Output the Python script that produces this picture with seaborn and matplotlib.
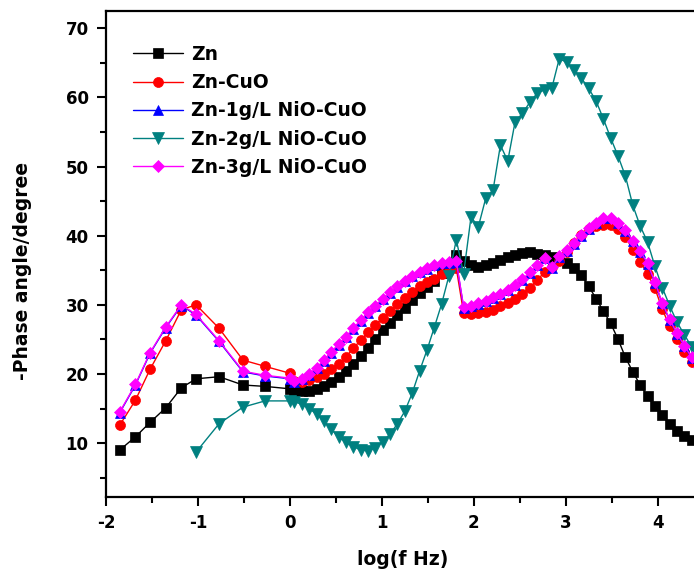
import numpy as np
import pandas as pd
import matplotlib
matplotlib.use("Agg")
import matplotlib.pyplot as plt
import seaborn as sns
from matplotlib.ticker import MultipleLocator

# log(f) grid: sparse low-frequency points, then the dense sweep
log_f_low = [-1.85, -1.68, -1.52, -1.35, -1.18, -1.02, -0.77, -0.51, -0.27, 0.0]
log_f_high = [0.05, 0.13, 0.21, 0.29, 0.37, 0.45, 0.53, 0.61, 0.69, 0.77,
              0.85, 0.93, 1.01, 1.09, 1.17, 1.25, 1.33, 1.41, 1.49, 1.57,
              1.65, 1.73, 1.81, 1.89, 1.97, 2.05, 2.13, 2.21, 2.29, 2.37,
              2.45, 2.53, 2.61, 2.69, 2.77, 2.85, 2.93, 3.01, 3.09, 3.17,
              3.25, 3.33, 3.41, 3.49, 3.57, 3.65, 3.73, 3.81, 3.89, 3.97,
              4.05, 4.13, 4.21, 4.29, 4.37, 4.45]

# -phase angle (degree)
zn_low = [9.0, 10.9, 13.0, 15.1, 18.0, 19.3, 19.6, 18.4, 18.2, 17.85]
zn_high = [17.6, 17.5, 17.5, 17.8, 18.3, 18.9, 19.6, 20.4, 21.4, 22.6,
           23.8, 25.1, 26.3, 27.4, 28.5, 29.6, 30.7, 31.7, 32.6, 33.5,
           34.6, 35.6, 37.2, 36.3, 35.7, 35.5, 35.8, 36.1, 36.5, 36.9,
           37.2, 37.5, 37.6, 37.4, 37.2, 36.9, 36.5, 36.0, 35.3, 34.3,
           32.7, 30.9, 29.1, 27.3, 25.0, 22.4, 20.3, 18.4, 16.8, 15.3,
           14.0, 12.8, 11.8, 11.0, 10.4, 10.0]

cuo_low = [12.6, 16.2, 20.7, 24.8, 29.3, 30.0, 26.6, 22.0, 21.1, 20.1]
cuo_high = [19.0, 18.8, 19.1, 19.5, 20.0, 20.7, 21.5, 22.5, 23.7, 24.9,
            26.0, 27.1, 28.1, 29.1, 30.1, 31.0, 31.9, 32.7, 33.3, 33.8,
            34.4, 34.9, 35.3, 28.8, 28.7, 28.8, 29.0, 29.3, 29.8, 30.3,
            30.9, 31.6, 32.5, 33.6, 34.7, 35.5, 36.3, 37.6, 38.9, 40.1,
            40.9, 41.4, 41.6, 41.5, 40.9, 39.8, 38.0, 36.2, 34.5, 32.4,
            29.4, 26.9, 25.0, 23.2, 21.7, 20.5]

nio1_low = [14.4, 18.4, 23.0, 26.7, 29.9, 28.5, 24.7, 20.3, 19.7, 19.3]
nio1_high = [18.9, 19.2, 19.9, 20.8, 21.9, 23.1, 24.2, 25.3, 26.5, 27.7,
             28.8, 29.8, 30.8, 31.7, 32.6, 33.4, 34.1, 34.7, 35.2, 35.7,
             36.0, 36.1, 36.2, 29.6, 29.8, 30.1, 30.5, 31.0, 31.5, 32.1,
             32.8, 33.6, 34.6, 35.7, 36.7, 35.3, 36.9, 37.8, 38.8, 40.0,
             41.0, 41.8, 42.5, 42.5, 41.8, 40.7, 39.2, 37.7, 35.9, 33.2,
             30.2, 27.8, 25.8, 24.0, 22.3, 20.9]

nio2_low = [8.7, 12.8, 15.2, 16.1, 16.1]
nio2_high = [16.0, 15.6, 15.0, 14.2, 13.2, 12.0, 10.9, 10.1, 9.5, 9.0,
             8.9, 9.3, 10.2, 11.3, 12.8, 14.6, 17.2, 20.4, 23.4, 26.7,
             30.1, 34.2, 39.4, 34.5, 42.7, 41.3, 45.4, 46.6, 53.1, 50.8,
             56.5, 57.7, 59.3, 60.6, 61.1, 61.4, 65.6, 65.1, 64.0, 62.8,
             61.3, 59.5, 56.9, 54.1, 51.5, 48.6, 44.4, 41.4, 39.1, 35.6,
             32.5, 29.9, 27.5, 25.7, 23.9, 22.4]

nio3_low = [14.5, 18.5, 23.1, 26.8, 30.0, 28.6, 24.8, 20.4, 19.8, 19.4]
nio3_high = [19.0, 19.3, 20.0, 20.9, 22.0, 23.2, 24.3, 25.4, 26.6, 27.8,
             28.9, 29.9, 30.9, 31.8, 32.7, 33.5, 34.2, 34.8, 35.3, 35.8,
             36.1, 36.2, 36.3, 29.7, 29.9, 30.2, 30.6, 31.1, 31.6, 32.2,
             32.9, 33.7, 34.7, 35.8, 36.8, 35.4, 37.0, 37.9, 38.9, 40.1,
             41.1, 41.9, 42.6, 42.6, 41.9, 40.8, 39.3, 37.8, 36.0, 33.3,
             30.3, 27.9, 25.9, 24.1, 22.4, 21.0]

labels = ["Zn", "Zn-CuO", "Zn-1g/L NiO-CuO", "Zn-2g/L NiO-CuO", "Zn-3g/L NiO-CuO"]
colors = ["#000000", "#FF0000", "#0000FF", "#008080", "#FF00FF"]
markers = ["s", "o", "^", "v", "D"]
marker_sizes = [6.5, 7.2, 7.0, 8.5, 6.6]

series = [
    (log_f_low + log_f_high, zn_low + zn_high),
    (log_f_low + log_f_high, cuo_low + cuo_high),
    (log_f_low + log_f_high, nio1_low + nio1_high),
    (log_f_low[5:] + log_f_high, nio2_low + nio2_high),
    (log_f_low + log_f_high, nio3_low + nio3_high),
]

sns.set_style("ticks")
plt.rcParams["font.family"] = ["DejaVu Sans"]
plt.rcParams["font.weight"] = "bold"
plt.rcParams["axes.unicode_minus"] = False
# plain black text and ticks like the Origin export
for key in ["text.color", "axes.labelcolor", "xtick.color", "ytick.color",
            "xtick.labelcolor", "ytick.labelcolor"]:
    plt.rcParams[key] = "black"

fig = plt.figure(figsize=(6.94, 5.73), dpi=100)
ax = fig.add_axes([106 / 694, 1 - 497 / 573, 593 / 694, 486 / 573])

for (xs, ys), lab, col, mk, ms in zip(series, labels, colors, markers, marker_sizes):
    df = pd.DataFrame({"log_f": xs, "phase": ys})
    sns.lineplot(data=df, x="log_f", y="phase", ax=ax, color=col, marker=mk,
                 markersize=ms, markeredgecolor=col, markeredgewidth=0.5,
                 linewidth=1.0, estimator=None, sort=False, label=lab)

ax.set_xlim(-2, 4.45)
ax.set_ylim(2.2, 72.5)
ax.xaxis.set_major_locator(MultipleLocator(1))
ax.xaxis.set_minor_locator(MultipleLocator(0.5))
ax.yaxis.set_major_locator(MultipleLocator(10))
ax.yaxis.set_minor_locator(MultipleLocator(5))
ax.tick_params(which="major", direction="out", length=6.5, width=1.5,
               labelsize=12, top=False, right=False, pad=6, colors="black")
ax.tick_params(which="minor", direction="out", length=4.3, width=1.5,
               top=False, right=False, colors="black")
for lbl in ax.get_xticklabels() + ax.get_yticklabels():
    lbl.set_fontweight("bold")

for side in ["left", "bottom", "top"]:
    ax.spines[side].set_linewidth(1.6)
    ax.spines[side].set_color("black")
ax.spines["right"].set_visible(False)

ax.set_xlabel("log(f Hz)", fontsize=13.5, fontweight="bold", color="black")
ax.set_ylabel("-Phase angle/degree", fontsize=13.5, fontweight="bold", color="black")
ax.yaxis.set_label_coords(-0.125, 0.465)
ax.xaxis.set_label_coords(0.5, -0.11)

handles, labs = ax.get_legend_handles_labels()
leg = ax.legend(handles, labs, loc="upper left", bbox_to_anchor=(0.045, 0.93),
                frameon=False, handlelength=2.7, handletextpad=0.4,
                labelspacing=0.49, borderaxespad=0, borderpad=0,
                prop={"weight": "bold", "size": 13.5})
for t in leg.get_texts():
    t.set_color("black")

fig.savefig("out.png", dpi=100)
